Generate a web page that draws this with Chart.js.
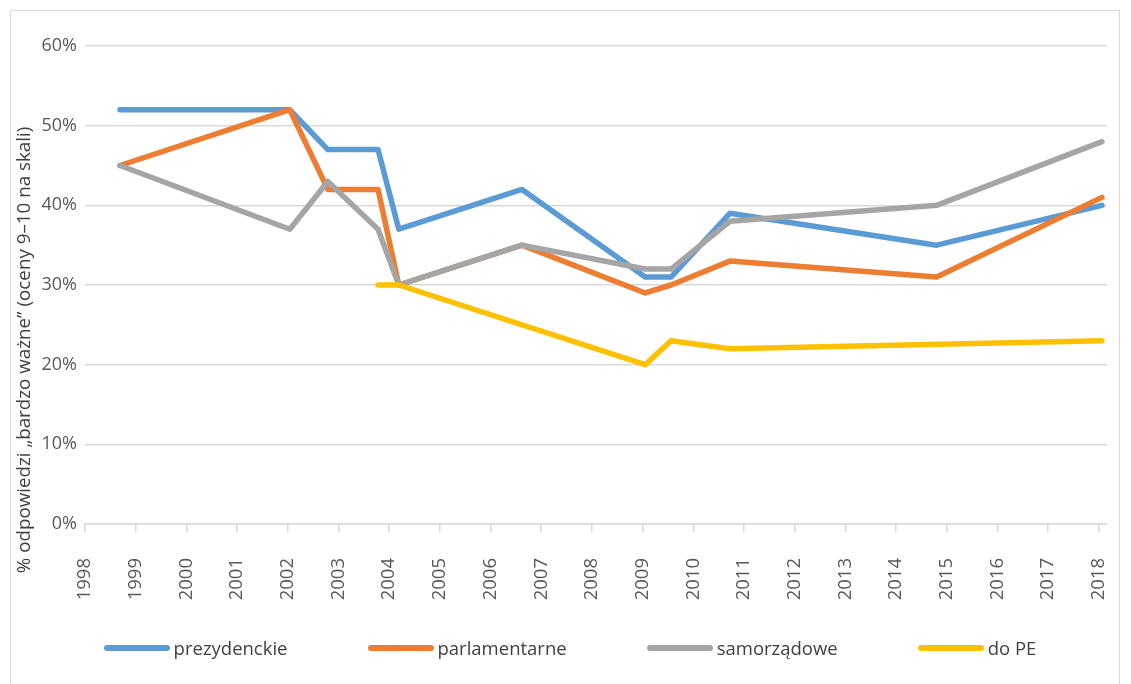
<!DOCTYPE html>
<html lang="pl">
<head>
<meta charset="utf-8">
<script src="https://cdn.jsdelivr.net/npm/chart.js@4/dist/chart.umd.min.js"></script>
<style>
  html, body { margin: 0; padding: 0; background: #fff; }
  #wrap { position: relative; width: 1131px; height: 684px; overflow: hidden; font-family: "Open Sans", sans-serif; }
  #frame { position: absolute; left: 10px; top: 10px; width: 1110px; height: 700px; border: 1px solid #d9d9d9; box-sizing: border-box; }
  #lineChart { position: absolute; left: 0; top: 0; }
  #legend { position: absolute; left: 11px; width: 1118px; top: 635px; display: flex; justify-content: center; gap: 80px; }
  .item { display: flex; align-items: center; font-size: 18.5px; color: #404040; }
  .swatch { width: 66px; height: 6px; border-radius: 3px; margin-right: 4px; }
</style>
</head>
<body>
<div id="wrap">
  <div id="frame"></div>
  <canvas id="lineChart" width="1131" height="684"></canvas>
  <div id="legend"></div>
</div>
<script>
// survey dates (fractional years)
const surveyDates = [1998.69, 2002.04, 2002.79, 2003.78, 2004.19, 2006.62, 2009.05, 2009.56, 2010.72, 2014.8, 2018.06];

const prezydenckie = [52, 52, 47, 47, 37, 42, 31, 31, 39, 35, 40];
const parlamentarne = [45, 52, 42, 42, 30, 35, 29, 30, 33, 31, 41];
const samorzadowe = [45, 37, 43, 37, 30, 35, 32, 32, 38, 40, 48];
const doPE = [null, null, null, 30, 30, null, 20, 23, 22, null, 23];

const seriesNames = ["prezydenckie", "parlamentarne", "samorządowe", "do PE"];
const seriesColors = ["#5b9bd5", "#ed7d31", "#a5a5a5", "#ffc000"];

const yTitle = "% odpowiedzi „bardzo ważne” (oceny 9–10 na skali)";

const toPoints = (values) =>
  values.map((v, i) => ({ x: surveyDates[i], y: v }));

// rotated y axis title, Excel puts it a bit lower than the axis centre
const yTitlePlugin = {
  id: "yTitle",
  afterDraw(chart) {
    const ctx = chart.ctx;
    ctx.save();
    ctx.translate(25, 350);
    ctx.rotate(-Math.PI / 2);
    ctx.font = '18.8px "Open Sans"';
    ctx.fillStyle = "#404040";
    ctx.textAlign = "center";
    ctx.textBaseline = "middle";
    ctx.fillText(yTitle, 0, 0);
    ctx.restore();
  },
};

const allSeries = [prezydenckie, parlamentarne, samorzadowe, doPE];

const ctx = document.getElementById("lineChart").getContext("2d");
const chart = new Chart(ctx, {
  type: "line",
  data: {
    datasets: allSeries.map((values, i) => ({
      label: seriesNames[i],
      data: toPoints(values),
      borderColor: seriesColors[i],
      backgroundColor: seriesColors[i],
      borderWidth: 5.5,
      borderCapStyle: "round",
      borderJoinStyle: "round",
      pointRadius: 0,
      tension: 0,
      spanGaps: true,
      // later series drawn on top, like in Excel
      order: allSeries.length - i,
    })),
  },
  options: {
    responsive: false,
    animation: false,
    layout: { padding: { left: 0, right: 24, top: 46, bottom: 0 } },
    plugins: {
      legend: { display: false },
      tooltip: { enabled: false },
    },
    scales: {
      x: {
        type: "linear",
        min: 1998,
        max: 2018.16,
        afterFit: (scale) => {
          scale.height = 160;
          scale.paddingLeft = 0;
          scale.paddingRight = 0;
        },
        grid: {
          drawOnChartArea: false,
          drawTicks: true,
          tickLength: 8,
          color: "#d9d9d9",
          lineWidth: 1.5,
        },
        border: { display: true, color: "#d9d9d9", width: 1.5 },
        ticks: {
          stepSize: 1,
          includeBounds: false,
          minRotation: 90,
          maxRotation: 90,
          autoSkip: false,
          padding: 26,
          color: "#595959",
          font: { family: "Open Sans", size: 18.5 },
          callback: (value) => String(value),
        },
      },
      y: {
        min: 0,
        max: 60,
        afterFit: (scale) => {
          scale.width = 85;
        },
        grid: {
          color: "#d9d9d9",
          lineWidth: 1.5,
          drawTicks: false,
        },
        border: { display: false },
        ticks: {
          stepSize: 10,
          padding: 8,
          color: "#595959",
          font: { family: "Open Sans", size: 18 },
          callback: (value) => value + "%",
        },
      },
    },
  },
  plugins: [yTitlePlugin],
});

// legend in HTML, spaced like the original
const legendEl = document.getElementById("legend");
seriesNames.forEach((name, i) => {
  const item = document.createElement("div");
  item.className = "item";
  const sw = document.createElement("span");
  sw.className = "swatch";
  sw.style.background = seriesColors[i];
  item.appendChild(sw);
  item.appendChild(document.createTextNode(name));
  legendEl.appendChild(item);
});
</script>
</body>
</html>
